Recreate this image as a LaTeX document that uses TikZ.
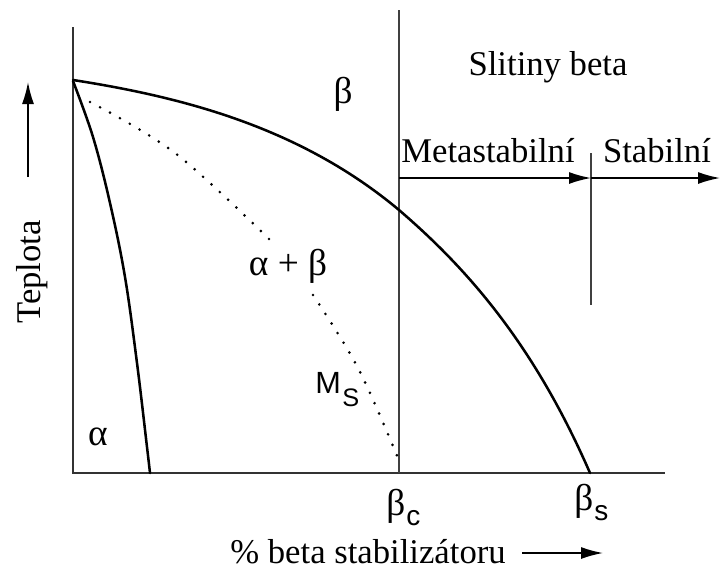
\documentclass[tikz,border=0pt]{standalone}
\usepackage{fontspec}
\setmainfont{Liberation Serif}
\newfontfamily\sansf{Liberation Sans}
\usetikzlibrary{arrows.meta}
\begin{document}
\begin{tikzpicture}[x=0.75pt,y=-0.75pt,
  curvestyle/.style={line width=1.9pt, line join=round, line cap=round},
  axisstyle/.style={line width=1.5pt, black!80},
  thinstyle/.style={line width=1.1pt, black!75},
  arr/.style={-{Latex[length=16.5pt,width=9pt]}, line width=1.2pt},
  lbl/.style={font=\fontsize{26}{30}\selectfont, inner sep=0pt, anchor=base},
  gr/.style={font=\fontsize{28}{32}\selectfont, inner sep=0pt, anchor=base},
  subs/.style={font=\fontsize{21}{24}\selectfont\sansf, inner sep=0pt, anchor=base west},
  dotstyle/.style={line width=2.2pt, line cap=round, dash pattern=on 0pt off 8.5pt}
]
\useasboundingbox (0,0) rectangle (720,571);
% key coordinates
\coordinate (ytop) at (73,27);
\coordinate (O) at (73,473);
\coordinate (xend) at (665,473);
\coordinate (P) at (73,80);
\coordinate (C) at (399,210);
\coordinate (E) at (590,473);
\coordinate (bcT) at (399,10);
\coordinate (bcB) at (399,473);
\coordinate (bsT) at (591,153);
\coordinate (bsB) at (591,305);
\coordinate (a1) at (399,178);
\coordinate (a2) at (591,178);
\coordinate (a3) at (720,178);
\coordinate (t1) at (28,177);
\coordinate (t2) at (28,82);
\coordinate (x1) at (522,553);
\coordinate (x2) at (603,553);

% axes
\draw[axisstyle] (ytop) -- (O) -- (xend);
% vertical lines
\draw[thinstyle] (bcT) -- (bcB);
\draw[thinstyle] (bsT) -- (bsB);
% arrows
\draw[arr] (a1) -- (a2);
\draw[arr] (a2) -- (a3);
\draw[arr] (t1) -- (t2);
\draw[arr] (x1) -- (x2);

% beta transus curve
\draw[curvestyle] (P) .. controls (182,97) and (300,127) .. (C)
  .. controls (469,270) and (535,346.5) .. (E);
% alpha curve
\draw[curvestyle] plot[smooth, tension=0.6] coordinates
  {(73,81) (93,137) (110,203) (125,277) (137,363) (147,447) (150,473)};
% Ms dotted curve
\draw[dotstyle] plot[smooth, tension=0.6] coordinates
  {(90,102) (175,153) (269,239)};
\draw[dotstyle] plot[smooth, tension=0.6] coordinates
  {(313,295) (358,368) (398,458)};

% labels
\node[lbl] (slit) at (548,75) {Slitiny beta};
\node[lbl] (meta) at (488,162) {Metastabilní};
\node[lbl] (stab) at (657,162) {Stabilní};
\node[gr] (beta) at (343,103) {β};
\node[gr] (ab) at (288,275) {α + β};
\node[gr] (alpha) at (98,445) {α};
\node[lbl, rotate=90] (tep) at (40,272) {Teplota};
\node[lbl] (xl) at (368,563) {\% beta stabilizátoru};
% Ms
\node[inner sep=0pt, anchor=base west] (ms) at (315,393) {\fontsize{23}{26}\selectfont\sansf M};
\node[inner sep=0pt, anchor=base west] (mss) at (342,406) {\fontsize{19}{22}\selectfont\sansf S};
% beta_c, beta_s
\node[gr, anchor=base west] (bc) at (386,515) {β};
\node[subs] (bcs) at (406,525) {c};
\node[gr, anchor=base west] (bs) at (574,510) {β};
\node[subs] (bss) at (594,520) {s};
\end{tikzpicture}
\end{document}
